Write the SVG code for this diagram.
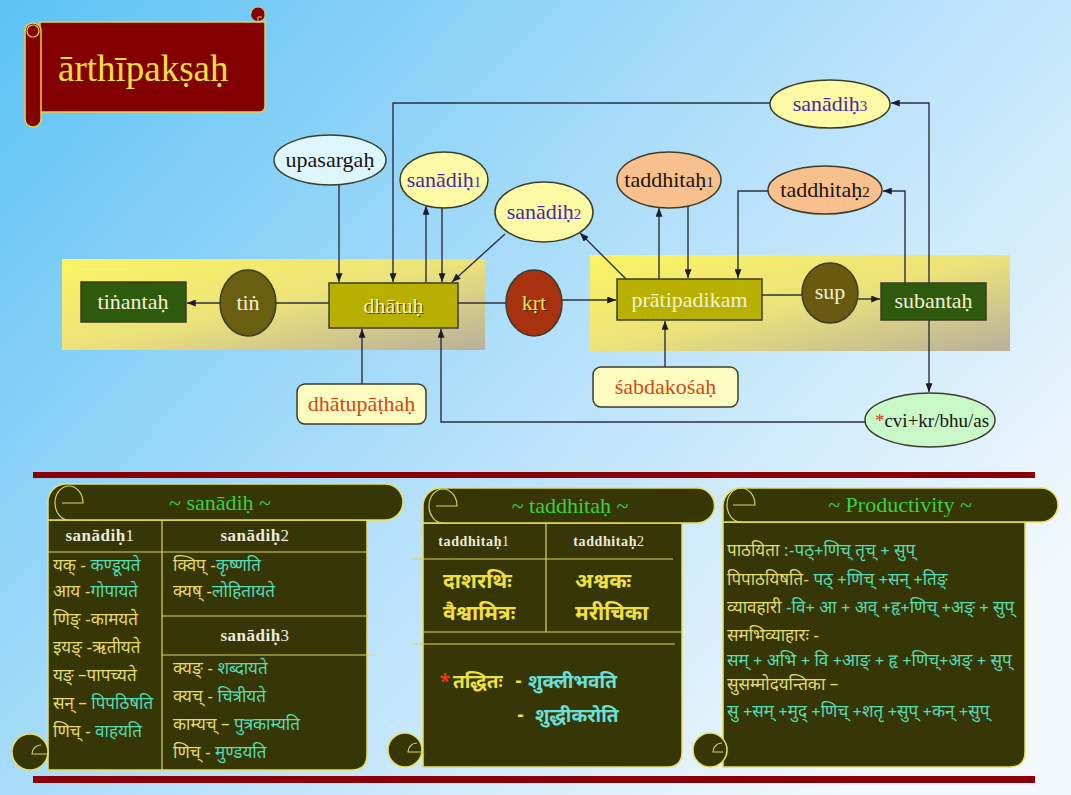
<svg xmlns="http://www.w3.org/2000/svg" width="1071" height="795" viewBox="0 0 1071 795">
<defs>
<linearGradient id="bg" x1="0" y1="0" x2="1" y2="0.7">
<stop offset="0" stop-color="#5cc2f4"/>
<stop offset="0.55" stop-color="#b4e0fa"/>
<stop offset="1" stop-color="#f2f8fc"/>
</linearGradient>
<linearGradient id="band" x1="0" y1="0" x2="1" y2="1">
<stop offset="0" stop-color="#faf464"/>
<stop offset="0.5" stop-color="#ece27a"/>
<stop offset="1" stop-color="#b8b09c"/>
</linearGradient>
<marker id="ah" viewBox="0 0 10 8" refX="10" refY="4" markerWidth="9" markerHeight="7" markerUnits="userSpaceOnUse" orient="auto">
<path d="M0,0 L10,4 L0,8 Z" fill="#1a1a30"/>
</marker>
<style>
.conn{fill:none;stroke:#2c3040;stroke-width:1.4}
.lat{font-family:"Liberation Serif","DejaVu Serif",serif;font-size:22px;text-anchor:middle}
.light{fill:#f4f0d0}
.dark{fill:#1a1410}
.purple{fill:#4a2aa8}
.orange{fill:#d04818}
.nodeS{stroke:#3c3c28;stroke-width:1.5}
.dev{font-family:"Noto Sans Devanagari","Noto Sans","Liberation Sans",sans-serif;font-size:17px}
.devb{font-family:"Noto Sans Devanagari","Noto Sans","Liberation Sans",sans-serif;font-size:21px;font-weight:bold}
.devb2{font-family:"Noto Sans Devanagari","Noto Sans","Liberation Sans",sans-serif;font-size:19px;font-weight:bold}
.y{fill:#e4da70}
.c{fill:#58dcb4}
.cy{fill:#6ce0d8}
.yb{fill:#f0e040}
.scr{fill:#363606;stroke:#e8e060;stroke-width:1.5}
.tl{stroke:#d8d860;stroke-width:1.2;fill:none}
.hd{font-family:"Liberation Serif","DejaVu Serif",serif;font-weight:bold;fill:#ecebdc;text-anchor:middle}
.ttl{font-family:"Liberation Serif","DejaVu Serif",serif;font-size:22px;fill:#3cd23c;text-anchor:middle}
.bar{fill:#8a0008}
</style>
</defs>

<rect width="1071" height="795" fill="url(#bg)"/>

<!-- title scroll -->
<g id="title">
<path d="M40,22 L265,22 L265,106 Q265,112 259,112 L40,112 Z" fill="#820000" stroke="#e8d040" stroke-width="1.5"/>
<rect x="25" y="23" width="16" height="104" rx="8" fill="#820000" stroke="#e8d040" stroke-width="1.5"/>
<circle cx="33" cy="31" r="6" fill="none" stroke="#e8d040" stroke-width="1.2"/>
<circle cx="258" cy="14" r="7" fill="#820000"/>
<path d="M251,14 A7,7 0 0 1 265,14 L265,22" fill="none" stroke="#e8d040" stroke-width="1"/>
<path d="M258,21 L258,17 L262,17" fill="none" stroke="#e8d040" stroke-width="1"/>
<text x="58" y="81" font-family="Liberation Serif, DejaVu Serif, serif" font-size="37" fill="#f0e040">ārthīpakṣaḥ</text>
</g>

<!-- bands -->
<rect x="62" y="259" width="423" height="91" fill="url(#band)"/>
<rect x="590" y="255" width="420" height="96" fill="url(#band)"/>

<!-- connectors -->
<g id="connectors">
<line class="conn" x1="220" y1="303" x2="187" y2="303" marker-end="url(#ah)"/>
<line class="conn" x1="329" y1="303" x2="276" y2="303"/>
<line class="conn" x1="458" y1="303" x2="506" y2="303"/>
<line class="conn" x1="562" y1="300" x2="616" y2="300" marker-end="url(#ah)"/>
<line class="conn" x1="762" y1="295" x2="802" y2="295"/>
<line class="conn" x1="858" y1="299" x2="880" y2="299" marker-end="url(#ah)"/>
<line class="conn" x1="339" y1="185" x2="339" y2="282" marker-end="url(#ah)"/>
<polyline class="conn" points="770,103 393,103 393,282" marker-end="url(#ah)"/>
<line class="conn" x1="426" y1="283" x2="426" y2="206" marker-end="url(#ah)"/>
<line class="conn" x1="442" y1="208" x2="442" y2="282" marker-end="url(#ah)"/>
<line class="conn" x1="505" y1="234" x2="452" y2="282" marker-end="url(#ah)"/>
<line class="conn" x1="626" y1="279" x2="580" y2="233" marker-end="url(#ah)"/>
<line class="conn" x1="659" y1="279" x2="659" y2="208" marker-end="url(#ah)"/>
<line class="conn" x1="688" y1="206" x2="688" y2="278" marker-end="url(#ah)"/>
<polyline class="conn" points="768,191 738,191 738,278" marker-end="url(#ah)"/>
<polyline class="conn" points="905,283 905,191 883,191" marker-end="url(#ah)"/>
<polyline class="conn" points="929,283 929,103 891,103" marker-end="url(#ah)"/>
<line class="conn" x1="362" y1="384" x2="362" y2="329" marker-end="url(#ah)"/>
<line class="conn" x1="665" y1="367" x2="665" y2="321" marker-end="url(#ah)"/>
<line class="conn" x1="929" y1="320" x2="929" y2="392" marker-end="url(#ah)"/>
<polyline class="conn" points="866,422 441,422 441,329" marker-end="url(#ah)"/>
</g>

<!-- nodes -->
<g id="tinantah">
<rect x="81" y="282" width="105" height="40" fill="#2e5a0e" class="nodeS"/>
<text class="lat light" x="133" y="309">tiṅantaḥ</text>
</g>
<g id="tin">
<ellipse cx="248" cy="303" rx="28" ry="33" fill="#6a5e10" class="nodeS"/>
<text class="lat light" x="248" y="310">tiṅ</text>
</g>
<g id="dhatuh">
<rect x="329" y="283" width="129" height="45" fill="#b8b000" class="nodeS"/>
<text class="lat" x="394.5" y="313.5" fill="#4a4000">dhātuḥ</text>
<text class="lat" x="393.5" y="312.5" fill="#f8f0b0">dhātuḥ</text>
</g>
<g id="krt">
<ellipse cx="534" cy="303" rx="28" ry="33" fill="#a83210" class="nodeS"/>
<text class="lat" x="535" y="311" fill="#4a2000">kṛt</text>
<text class="lat" x="534" y="310" fill="#f4e060">kṛt</text>
</g>
<g id="pratipadikam">
<rect x="617" y="279" width="145" height="41" fill="#b8b000" class="nodeS"/>
<text class="lat light" x="689.5" y="307">prātipadikam</text>
</g>
<g id="sup">
<ellipse cx="830" cy="293" rx="28" ry="30" fill="#6a5a10" class="nodeS"/>
<text class="lat light" x="830" y="299">sup</text>
</g>
<g id="subantah">
<rect x="881" y="283" width="105" height="37" fill="#2e5a0e" class="nodeS"/>
<text class="lat light" x="933.5" y="308">subantaḥ</text>
</g>
<g id="upasargah">
<ellipse cx="330" cy="160" rx="56" ry="25" fill="#dcf6fc" class="nodeS"/>
<text class="lat dark" x="330" y="167">upasargaḥ</text>
</g>
<g id="sanadih1">
<ellipse cx="444" cy="180" rx="44" ry="28" fill="#fcfaa4" class="nodeS"/>
<text class="lat purple" x="444" y="187">sanādiḥ<tspan font-size="15">1</tspan></text>
</g>
<g id="sanadih2">
<ellipse cx="544" cy="212" rx="49" ry="30" fill="#fcfaa4" class="nodeS"/>
<text class="lat purple" x="544" y="219">sanādiḥ<tspan font-size="15">2</tspan></text>
</g>
<g id="sanadih3">
<ellipse cx="830" cy="104" rx="60" ry="24" fill="#fcfaa4" class="nodeS"/>
<text class="lat purple" x="830" y="111">sanādiḥ<tspan font-size="15">3</tspan></text>
</g>
<g id="taddhitah1">
<ellipse cx="669" cy="180" rx="52" ry="28" fill="#f8c08c" class="nodeS"/>
<text class="lat dark" x="669" y="187">taddhitaḥ<tspan font-size="15">1</tspan></text>
</g>
<g id="taddhitah2">
<ellipse cx="825" cy="190" rx="57" ry="24" fill="#f8c08c" class="nodeS"/>
<text class="lat dark" x="825" y="197">taddhitaḥ<tspan font-size="15">2</tspan></text>
</g>
<g id="dhatupathah">
<rect x="297" y="384" width="129" height="40" rx="8" fill="#fdfcc0" class="nodeS"/>
<text class="lat orange" x="361.5" y="411">dhātupāṭhaḥ</text>
</g>
<g id="sabdakosah">
<rect x="593" y="367" width="145" height="40" rx="8" fill="#fdfcc0" class="nodeS"/>
<text class="lat orange" x="665.5" y="394">śabdakośaḥ</text>
</g>
<g id="cvi">
<ellipse cx="930" cy="420" rx="65" ry="27" fill="#c8f8c8" class="nodeS"/>
<text x="932" y="427" font-family="Liberation Serif, DejaVu Serif, serif" font-size="19" text-anchor="middle" fill="#1a1410"><tspan fill="#e03010">*</tspan>cvi+kr/bhu/as</text>
</g>

<!-- dividers -->
<rect class="bar" x="33" y="472" width="1002" height="6"/>
<rect class="bar" x="33" y="776" width="1002" height="7"/>

<!-- sanadih scroll -->
<g id="scroll-sanadih">
<path class="scr" d="M48,520 L367,520 L367,755 Q367,770 352,770 L48,770 Z"/>
<path class="scr" d="M66,484 L385,484 A18,18 0 0 1 385,520 L48,520 L48,502 A18,18 0 0 1 66,484 Z"/>
<path class="tl" d="M62,503 L83,503 A14,17 0 1 0 69,520"/>
<circle class="scr" cx="30" cy="752" r="18"/>
<path class="tl" d="M48,754 L32,754 A9,9 0 0 1 41,745"/>
<line class="tl" x1="162" y1="520" x2="162" y2="770"/>
<line class="tl" x1="48" y1="552" x2="367" y2="552"/>
<line class="tl" x1="162" y1="616" x2="370" y2="616"/>
<line class="tl" x1="162" y1="655" x2="375" y2="655"/>
<text class="ttl" x="220" y="510">~ sanādiḥ ~</text>
<text class="hd" x="100" y="541" font-size="17" letter-spacing="0.5">sanādiḥ<tspan font-weight="normal">1</tspan></text>
<text class="hd" x="255" y="541" font-size="17" letter-spacing="0.5">sanādiḥ<tspan font-weight="normal">2</tspan></text>
<text class="hd" x="255" y="641" font-size="17" letter-spacing="0.5">sanādiḥ<tspan font-weight="normal">3</tspan></text>
<g class="dev">
<text x="53" y="571"><tspan class="y">यक् - </tspan><tspan class="c">कण्डूयते</tspan></text>
<text x="53" y="597"><tspan class="y">आय -</tspan><tspan class="c">गोपायते</tspan></text>
<text x="53" y="625"><tspan class="y">णिङ् -कामयते</tspan></text>
<text x="53" y="653"><tspan class="y">इयङ् -ऋतीयते</tspan></text>
<text x="53" y="681"><tspan class="y">यङ् –पापच्यते</tspan></text>
<text x="53" y="709"><tspan class="y">सन् – </tspan><tspan class="c">पिपठिषति</tspan></text>
<text x="53" y="737"><tspan class="y">णिच् - </tspan><tspan class="c">वाहयति</tspan></text>
<text x="173" y="571"><tspan class="y">क्विप् -</tspan><tspan class="c">कृष्णति</tspan></text>
<text x="173" y="597"><tspan class="y">क्यष् -</tspan><tspan class="c">लोहितायते</tspan></text>
<text x="173" y="674"><tspan class="y">क्यङ् - </tspan><tspan class="c">शब्दायते</tspan></text>
<text x="173" y="702"><tspan class="y">क्यच् - </tspan><tspan class="c">चित्रीयते</tspan></text>
<text x="173" y="730"><tspan class="y">काम्यच् – </tspan><tspan class="c">पुत्रकाम्यति</tspan></text>
<text x="173" y="758"><tspan class="y">णिच् - </tspan><tspan class="c">मुण्डयति</tspan></text>
</g>
</g>

<!-- taddhitah scroll -->
<g id="scroll-taddhitah">
<path class="scr" d="M423,523 L682,523 L682,752 Q682,767 667,767 L423,767 Z"/>
<path class="scr" d="M441,488 L697,488 A17.5,17.5 0 0 1 697,523 L423,523 L423,506 A18,18 0 0 1 441,488 Z"/>
<path class="tl" d="M436,506 L457,506 A14,17 0 1 0 443,523"/>
<circle class="scr" cx="405" cy="750" r="17"/>
<path class="tl" d="M423,752 L408,752 A9,9 0 0 1 417,743"/>
<line class="tl" x1="546" y1="523" x2="546" y2="632"/>
<line class="tl" x1="412" y1="559" x2="673" y2="559"/>
<line class="tl" x1="423" y1="632" x2="682" y2="632"/>
<line class="tl" x1="412" y1="644" x2="675" y2="644"/>
<text class="ttl" x="570" y="513">~ taddhitaḥ ~</text>
<text class="hd" x="474" y="546" font-size="14" letter-spacing="0.6">taddhitaḥ<tspan font-weight="normal">1</tspan></text>
<text class="hd" x="609" y="546" font-size="14" letter-spacing="0.6">taddhitaḥ<tspan font-weight="normal">2</tspan></text>
<g class="devb">
<text class="yb" x="443" y="588">दाशरथिः</text>
<text class="yb" x="443" y="620">वैश्वामित्रः</text>
<text class="yb" x="575" y="588">अश्वकः</text>
<text class="yb" x="575" y="620">मरीचिका</text>
</g>
<g class="devb2">
<text x="439" y="688" fill="#f03818">*</text>
<text class="yb" x="453" y="688">तद्धितः</text>
<text class="yb" x="515" y="688">-</text>
<text class="cy" x="528" y="688">शुक्लीभवति</text>
<text class="yb" x="517" y="722">-</text>
<text class="cy" x="535" y="722">शुद्धीकरोति</text>
</g>
</g>

<!-- productivity scroll -->
<g id="scroll-productivity">
<path class="scr" d="M723,522 L1025,522 L1025,752 Q1025,767 1010,767 L723,767 Z"/>
<path class="scr" d="M741,488 L1041,488 A17,17 0 0 1 1041,522 L723,522 L723,506 A18,18 0 0 1 741,488 Z"/>
<path class="tl" d="M733,505 L755,505 A14,17 0 1 0 741,522"/>
<circle class="scr" cx="710" cy="750" r="17"/>
<path class="tl" d="M723,752 L713,752 A9,9 0 0 1 722,743"/>
<text class="ttl" x="900" y="512">~ Productivity ~</text>
<g class="dev">
<text x="727" y="556"><tspan class="y">पाठयिता </tspan><tspan class="c">:-पठ्+णिच् तृच् + सुप्</tspan></text>
<text x="727" y="585"><tspan class="y">पिपाठयिषति- </tspan><tspan class="c">पठ् +णिच् +सन् +तिङ्</tspan></text>
<text x="727" y="613"><tspan class="y">व्यावहारी </tspan><tspan class="c">-वि+ आ + अव् +हृ+णिच् +अङ् + सुप्</tspan></text>
<text x="727" y="641"><tspan class="y">समभिव्याहारः -</tspan></text>
<text x="727" y="666"><tspan class="c"> सम् + अभि + वि +आङ् + हृ +णिच्+अङ् + सुप्</tspan></text>
<text x="727" y="690"><tspan class="y">सुसम्मोदयन्तिका –</tspan></text>
<text x="727" y="717"><tspan class="c">सु +सम् +मुद् +णिच् +शतृ +सुप् +कन् +सुप्</tspan></text>
</g>
</g>
</svg>
